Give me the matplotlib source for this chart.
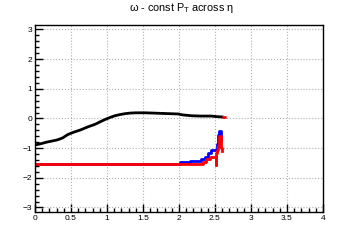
import matplotlib
matplotlib.use('Agg')
import matplotlib.pyplot as plt
from matplotlib.ticker import MultipleLocator, FormatStrFormatter

# black: omega at const pT vs eta
eta_k = [0.0, 0.05, 0.1, 0.16, 0.22, 0.3, 0.35, 0.39, 0.42, 0.46, 0.52, 0.58, 0.63,
         0.67, 0.74, 0.81, 0.86, 0.9, 0.97, 1.04, 1.11, 1.18, 1.25, 1.32, 1.4, 1.53,
         1.65, 1.76, 1.88, 1.99, 2.05, 2.18, 2.3, 2.45, 2.53, 2.6]
om_k = [-0.89, -0.87, -0.84, -0.8, -0.77, -0.73, -0.69, -0.65, -0.6, -0.54, -0.48,
        -0.43, -0.39, -0.35, -0.28, -0.22, -0.17, -0.12, -0.04, 0.03, 0.09, 0.13,
        0.16, 0.18, 0.19, 0.19, 0.18, 0.17, 0.16, 0.15, 0.12, 0.09, 0.08, 0.08,
        0.06, 0.05]
# red tail of black series
eta_kr = [2.6, 2.68]
om_kr = [0.05, 0.05]

# blue
eta_b = [0.0, 1.9, 2.01, 2.1, 2.15, 2.22, 2.31, 2.36, 2.4, 2.45, 2.52, 2.53, 2.54,
         2.56, 2.58, 2.59]
om_b = [-1.53, -1.53, -1.48, -1.46, -1.42, -1.42, -1.37, -1.29, -1.15, -1.07, -1.05,
        -0.86, -0.57, -0.41, -0.57, -0.73]
# red
eta_r = [0.0, 2.3, 2.33, 2.38, 2.43, 2.47, 2.51, 2.52, 2.52, 2.53, 2.54, 2.56,
         2.58, 2.59, 2.6]
om_r = [-1.53, -1.53, -1.48, -1.37, -1.3, -1.31, -1.32, -1.57, -1.18, -1.05, -0.92,
        -0.6, -0.8, -0.98, -1.1]

plt.rcParams['font.family'] = ['Liberation Sans', 'DejaVu Sans']
fig = plt.figure(figsize=(3.6, 2.4), dpi=100)
ax = fig.add_axes([0.097, 0.117, 0.8, 0.779])

ax.plot(eta_k, om_k, color='black', lw=2.0)
ax.plot(eta_kr, om_kr, color='red', lw=2.0, ls=(0, (1.5, 1)))
ax.plot(eta_b, om_b, color='blue', lw=2.0, drawstyle='steps-post')
ax.plot(eta_r, om_r, color='red', lw=2.0, drawstyle='steps-post')

ax.set_xlim(0, 4)
ax.set_ylim(-3.15, 3.15)
ax.xaxis.set_major_locator(MultipleLocator(0.5))
ax.xaxis.set_minor_locator(MultipleLocator(0.1))
ax.yaxis.set_major_locator(MultipleLocator(1))
ax.yaxis.set_minor_locator(MultipleLocator(0.2))
ax.xaxis.set_major_formatter(FormatStrFormatter('%g'))
ax.tick_params(which='both', direction='in', labelsize=6, pad=2, width=1)
ax.tick_params(which='major', length=6)
ax.tick_params(which='minor', length=3)
ax.grid(True, which='major', ls=':', color='#b0b0b0', lw=0.8)
for s in ax.spines.values():
    s.set_linewidth(1)

fig.text(0.505, 0.965, r'ω - const P$_{\mathregular{T}}$ across η', ha='center',
         va='center', fontsize=7.8)

fig.savefig('out.png', dpi=100)
